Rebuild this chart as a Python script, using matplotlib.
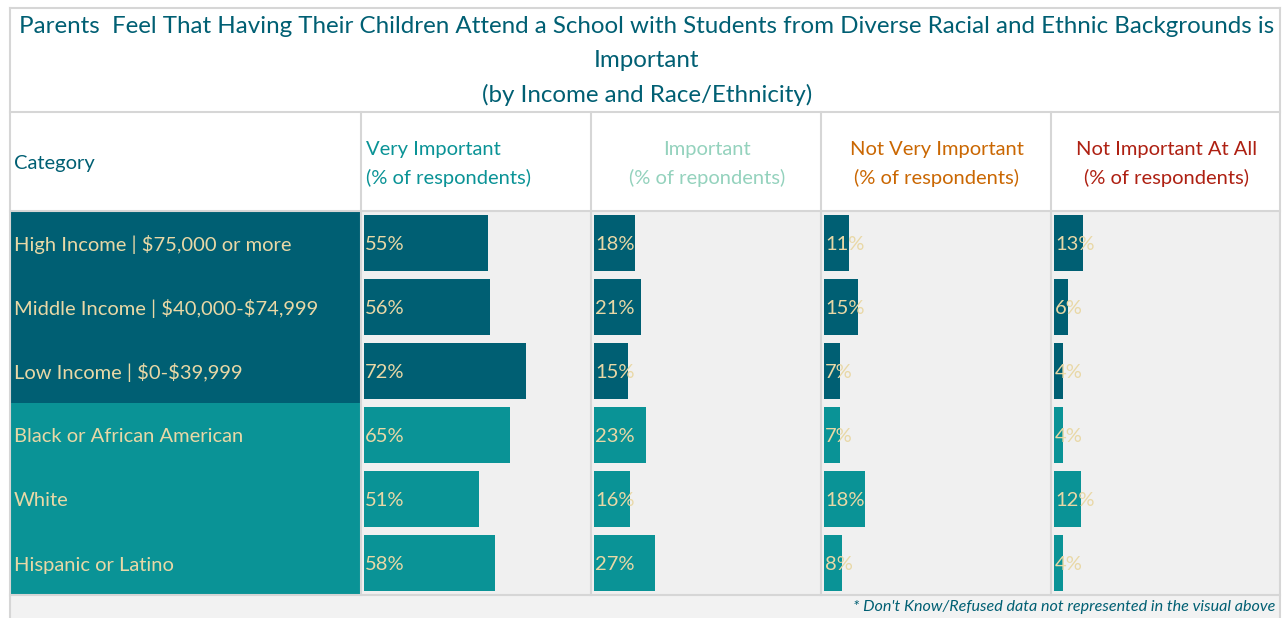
import matplotlib
matplotlib.use("Agg")
import matplotlib.pyplot as plt
from matplotlib.patches import Rectangle

# ---------------- data ----------------
categories = [
    "High Income | $75,000 or more",
    "Middle Income | $40,000-$74,999",
    "Low Income | $0-$39,999",
    "Black or African American",
    "White",
    "Hispanic or Latino",
]
groups = ["income", "income", "income", "race", "race", "race"]
very_important = [55, 56, 72, 65, 51, 58]
important = [18, 21, 15, 23, 16, 27]
not_very_important = [11, 15, 7, 7, 18, 8]
not_important_at_all = [13, 6, 4, 4, 12, 4]

col_titles = [
    "Very Important\n(% of respondents)",
    "Important\n(% of repondents)",
    "Not Very Important\n(% of respondents)",
    "Not Important At All\n(% of respondents)",
]
title = ("Parents  Feel That Having Their Children Attend a School with Students from Diverse Racial and Ethnic Backgrounds is\n"
         "Important\n(by Income and Race/Ethnicity)")
footnote = "* Don't Know/Refused data not represented in the visual above"

# ---------------- style ----------------
W, H = 1284, 618
DARK = "#005F73"
LIGHT = "#0A9396"
TXT = "#E9D8A6"
HEAD_COLORS = ["#0A9396", "#94D2BD", "#CA6702", "#AE2012"]
GRID = "#D6D6D6"
BG = "#F0F0F0"
FONT = "Lato"
FS = 14.5

plt.rcParams["font.family"] = [FONT, "DejaVu Sans"]
plt.rcParams["text.parse_math"] = False

fig = plt.figure(figsize=(W / 100, H / 100), dpi=100)
fig.patch.set_facecolor("white")

base = fig.add_axes([0, 0, 1, 1])
base.set_xlim(0, W)
base.set_ylim(H, 0)
base.axis("off")

left, right = 10, 1280
col_edges = [361, 591, 821, 1051, 1280]
title_top, head_top, data_top, data_bot, foot_bot = 8, 112, 211, 595, 618
n = len(categories)
row_h = (data_bot - data_top) / n

# backgrounds
base.add_patch(Rectangle((col_edges[0], data_top), right - col_edges[0], data_bot - data_top,
                         facecolor=BG, edgecolor="none", zorder=0))
base.add_patch(Rectangle((left, data_bot), right - left, foot_bot - data_bot,
                         facecolor="#F2F2F2", edgecolor="none", zorder=0))
for i, g in enumerate(groups):
    base.add_patch(Rectangle((left, data_top + i * row_h), col_edges[0] - left, row_h,
                             facecolor=DARK if g == "income" else LIGHT, edgecolor="none", zorder=1))

# lines
lw = 1.5
for y in [title_top, head_top, data_top, data_bot]:
    base.plot([left, right], [y, y], color=GRID, lw=lw, zorder=2)
base.plot([left, left], [title_top, foot_bot], color=GRID, lw=lw, zorder=2)
base.plot([right, right], [title_top, foot_bot], color=GRID, lw=lw, zorder=2)
for x in col_edges[:-1]:
    base.plot([x, x], [head_top, data_bot], color=GRID, lw=lw, zorder=2)

# title
base.text((left + right) / 2 + 2, 61, title, ha="center", va="center", color=DARK,
          fontsize=17.4, linespacing=1.76, zorder=3, parse_math=False)

# headers
base.text(14, 163, "Category", ha="left", va="center", color=DARK, fontsize=FS, zorder=3)
for k, t in enumerate(col_titles):
    c0, c1 = col_edges[k], col_edges[k + 1]
    if k == 0:
        base.text(c0 + 5, 164, t, ha="left", va="center", color=HEAD_COLORS[k],
                  fontsize=FS, linespacing=1.7, zorder=3)
    else:
        base.text((c0 + c1) / 2 + 1, 164, t, ha="center", va="center", color=HEAD_COLORS[k],
                  fontsize=FS, linespacing=1.7, multialignment="center", zorder=3)

# category labels
for i, c in enumerate(categories):
    base.text(14, data_top + (i + 0.5) * row_h + 2, c, ha="left", va="center", color=TXT,
              fontsize=FS, zorder=3, parse_math=False)

# footnote
base.text(1275, 607, footnote, ha="right", va="center", color=DARK, fontsize=11.6,
          style="italic", zorder=3)

# bars
series = [very_important, important, not_very_important, not_important_at_all]
bar_colors = [DARK if g == "income" else LIGHT for g in groups]
px_per_pct = 2.25
for k, vals in enumerate(series):
    x0 = col_edges[k] + 3
    ax = fig.add_axes([x0 / W, 1 - data_bot / H, (100 * px_per_pct) / W, (data_bot - data_top) / H])
    ax.set_xlim(0, 100)
    ax.set_ylim(n - 0.5, -0.5)
    ax.axis("off")
    ax.patch.set_alpha(0)
    ys = list(range(n))
    ax.barh(ys, vals, height=0.89, color=bar_colors, edgecolor="none")
    for y, v in zip(ys, vals):
        ax.text(0.4, y + 0.03, f"{v}%", ha="left", va="center", color=TXT, fontsize=FS)

fig.savefig("out.png", dpi=100, facecolor="white")
